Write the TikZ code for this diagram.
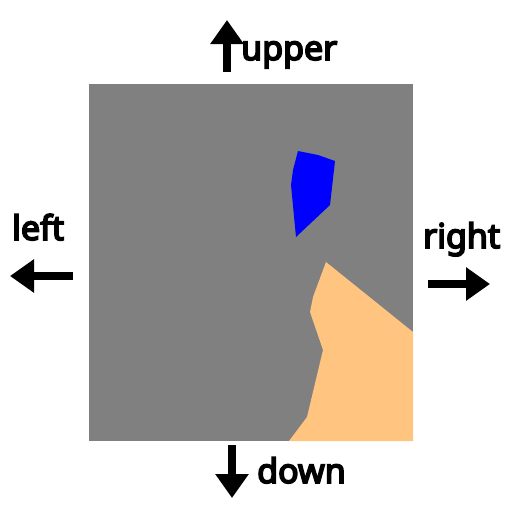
\documentclass[tikz,border=0pt]{standalone}
\usepackage{fontspec}
\setmainfont{Noto Sans}[BoldFont={Noto Sans},BoldFeatures={FakeBold=5}]
\usetikzlibrary{arrows.meta}
\definecolor{fieldgray}{RGB}{128,128,128}
\definecolor{peach}{RGB}{255,196,128}
\tikzset{
  dirarrow/.style={line width=8pt,-{Triangle[length=24pt,width=32pt]},black},
  dirlabel/.style={anchor=base west,inner sep=0pt,font=\fontsize{34}{34}\selectfont\bfseries}
}
\begin{document}
\begin{tikzpicture}[x=1pt,y=-1pt]
            \useasboundingbox (0,0) rectangle (512,512);
            % field
            \fill[fieldgray] (89,84) rectangle (413,441);
            \fill[blue] (298,151) -- (318,155) -- (335,161) -- (330,205) -- (296,237) -- (291,185) -- (293,170) -- cycle;
            \fill[peach] (326,262) -- (413,332) -- (413,441) -- (289,441) -- (307,417) -- (323,350) -- (310,312) -- (313,297) -- cycle;
            % arrows
            \coordinate (upS) at (227,72);
            \coordinate (upE) at (227,20);
            \coordinate (leftS) at (73,276);
            \coordinate (leftE) at (10,276);
            \coordinate (rightS) at (428,284);
            \coordinate (rightE) at (490,284);
            \coordinate (downS) at (232,445);
            \coordinate (downE) at (232,498);
            \draw[dirarrow] (upS) -- (upE);
            \draw[dirarrow] (leftS) -- (leftE);
            \draw[dirarrow] (rightS) -- (rightE);
            \draw[dirarrow] (downS) -- (downE);
            % labels
            \node[dirlabel] (upper) at (241,60) {upper};
            \node[dirlabel] (left) at (12,240) {left};
            \node[dirlabel] (right) at (423,248) {right};
            \node[dirlabel] (down) at (257,483) {down};
        \end{tikzpicture}
\end{document}
